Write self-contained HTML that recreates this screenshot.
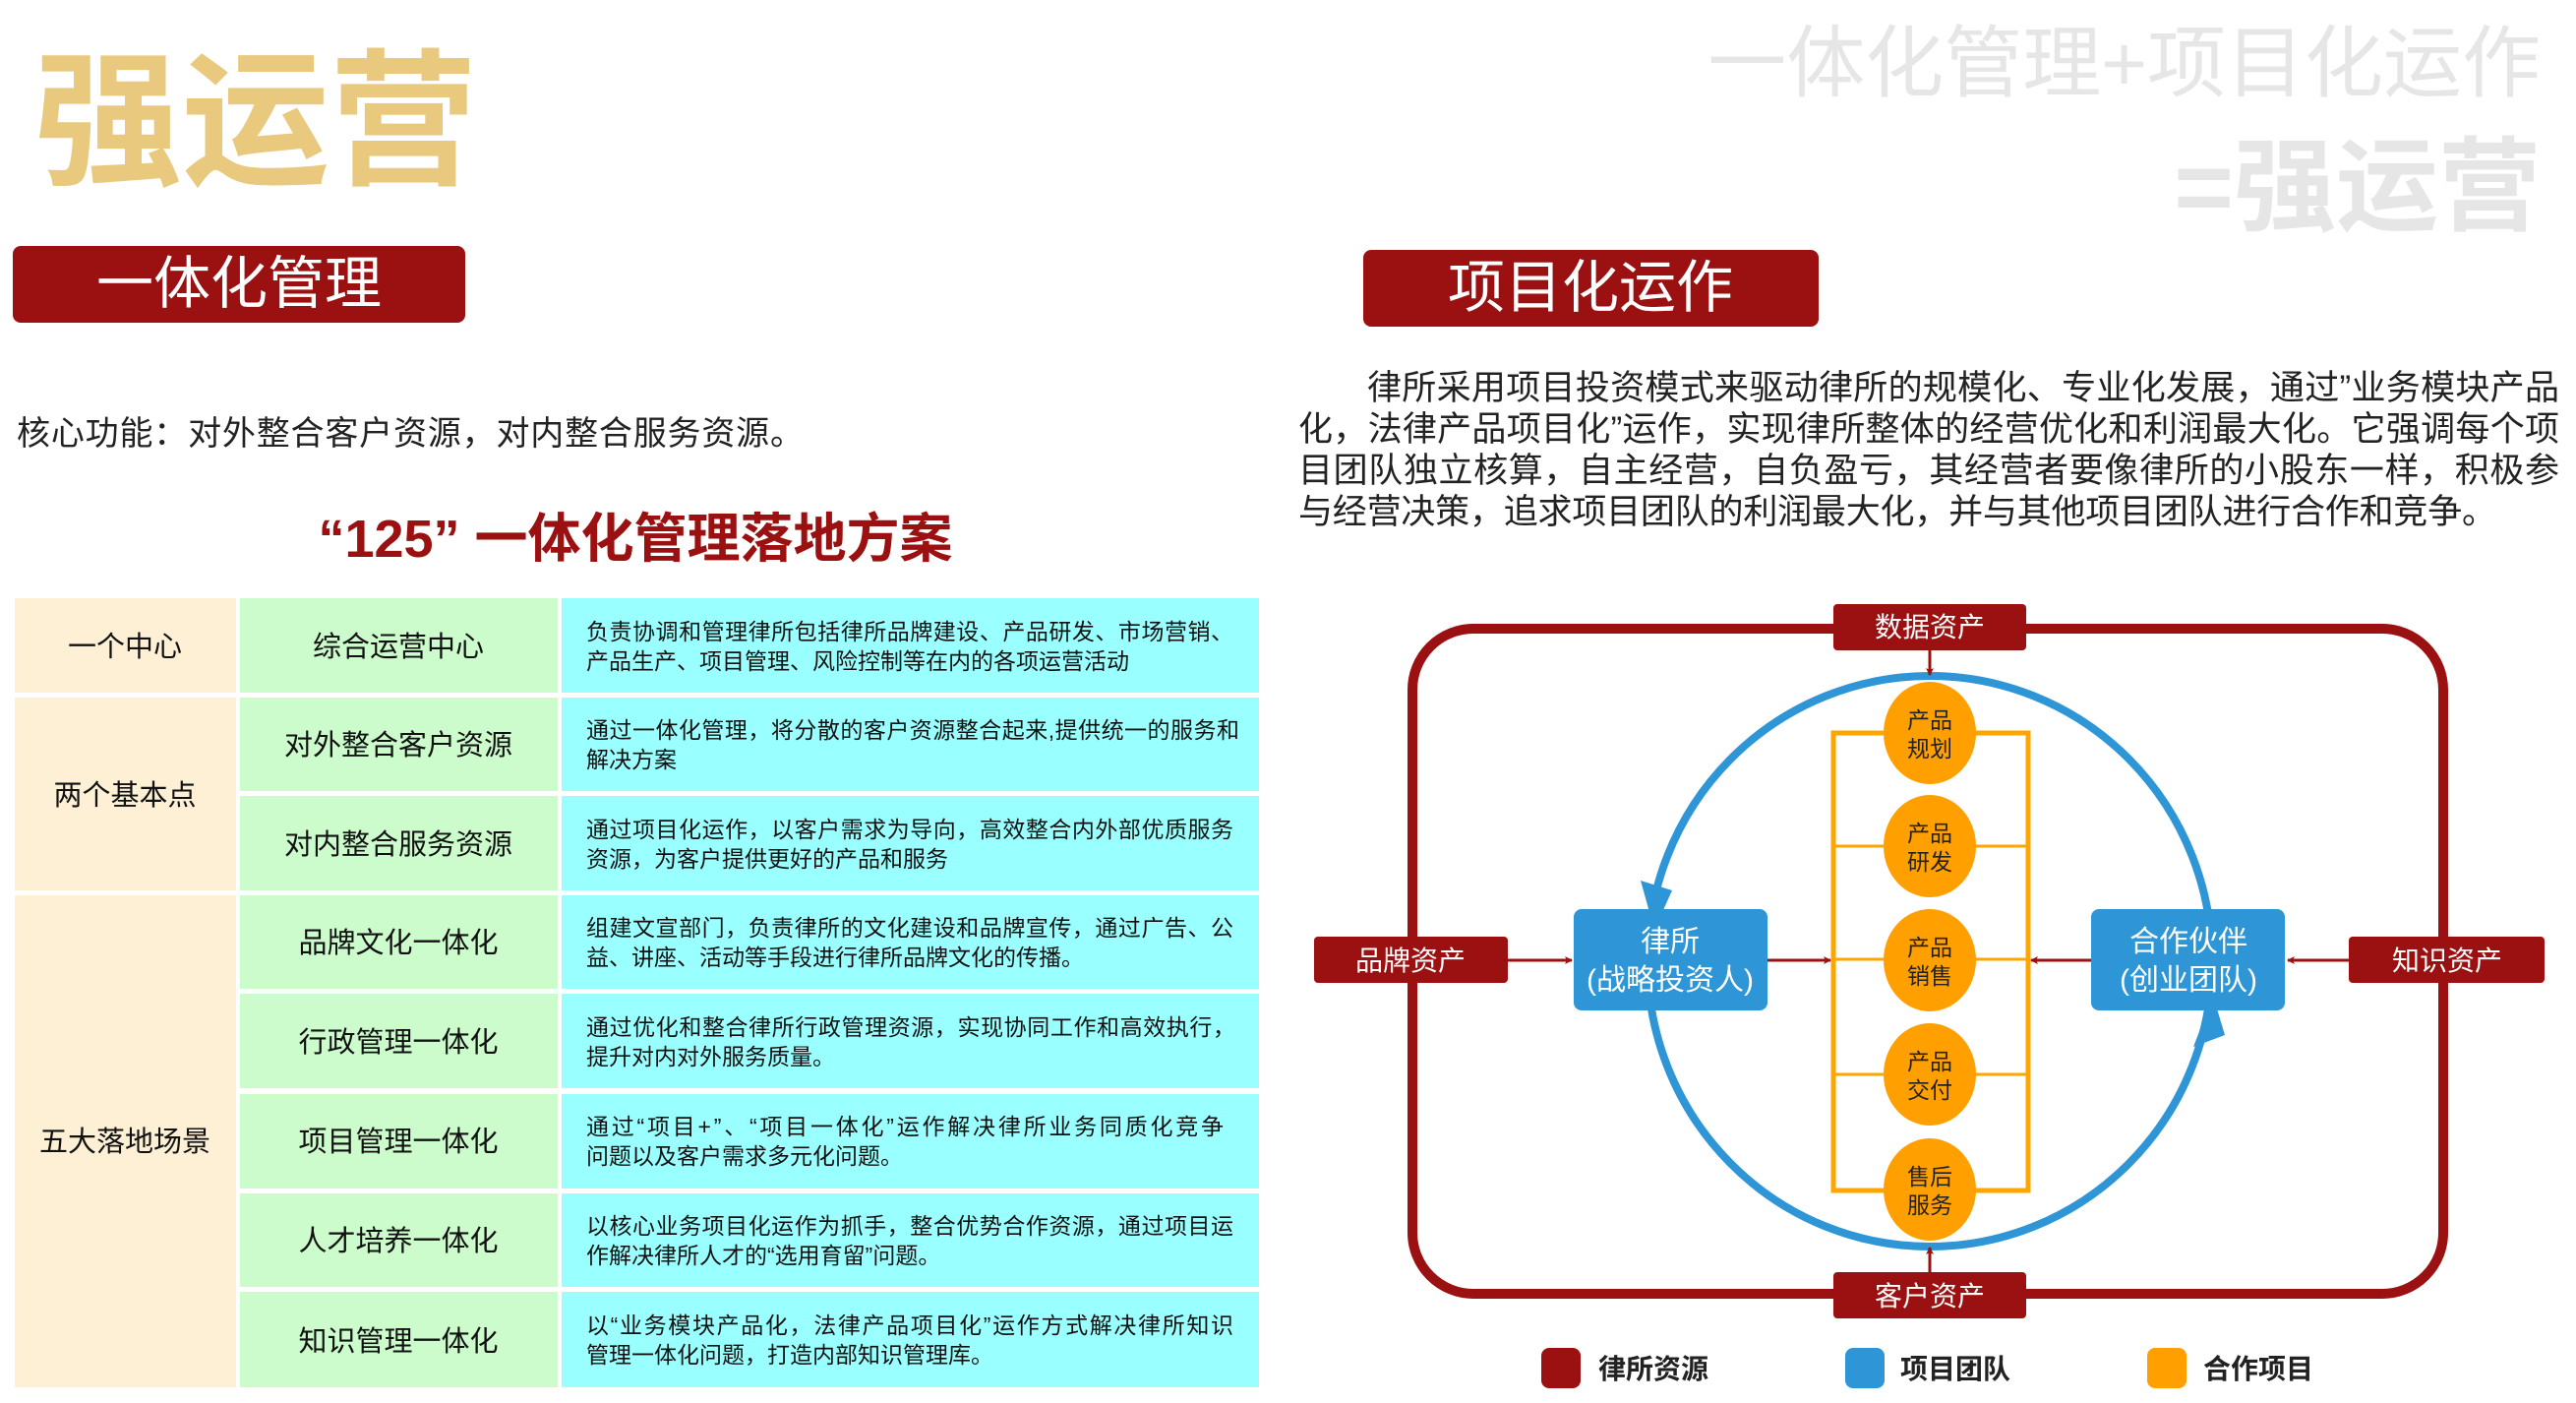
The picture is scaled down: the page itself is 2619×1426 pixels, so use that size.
<!DOCTYPE html>
<html><head><meta charset="utf-8"><style>
html,body{margin:0;padding:0;background:#fff;}
svg{display:block;}
text{font-family:"Liberation Sans","Noto Sans CJK SC",sans-serif;}
</style></head><body>
<svg width="2619" height="1426" viewBox="0 0 2619 1426" xmlns="http://www.w3.org/2000/svg">
<defs>
<marker id="ar" markerWidth="8" markerHeight="8" refX="7" refY="4" orient="auto" markerUnits="userSpaceOnUse" viewBox="0 0 8 8"><path d="M0,0 L8,4 L0,8 L2,4 Z" fill="#9b1010"/></marker>
</defs>
<text x="35" y="176" font-size="150" font-weight="bold" fill="#e8c97e" textLength="450">强运营</text>
<text x="2583" y="92" font-size="80" fill="#e6e6e6" text-anchor="end">一体化管理+项目化运作</text>
<text x="2583" y="226" font-size="104" font-weight="bold" fill="#e6e6e6" text-anchor="end">=强运营</text>

<rect x="13" y="250" width="460" height="78" rx="8" fill="#9b1010"/>
<text x="243" y="308" font-size="58" fill="#fff" text-anchor="middle">一体化管理</text>
<rect x="1386" y="254" width="463" height="78" rx="8" fill="#9b1010"/>
<text x="1617" y="312" font-size="58" fill="#fff" text-anchor="middle">项目化运作</text>

<text x="17" y="452" font-size="34" fill="#222" textLength="800">核心功能：对外整合客户资源，对内整合服务资源。</text>
<text x="646" y="566" font-size="54" font-weight="bold" fill="#9b1010" text-anchor="middle">“125” 一体化管理落地方案</text>

<g>
<rect x="15" y="608" width="225" height="96" fill="#fdf0d5"/>
<rect x="15" y="709" width="225" height="196" fill="#fdf0d5"/>
<rect x="15" y="910" width="225" height="500" fill="#fdf0d5"/>
<g fill="#ccfccc">
<rect x="244" y="608" width="323" height="96"/><rect x="244" y="709" width="323" height="95"/><rect x="244" y="809" width="323" height="96"/>
<rect x="244" y="910" width="323" height="95"/><rect x="244" y="1010" width="323" height="96"/><rect x="244" y="1112" width="323" height="96"/>
<rect x="244" y="1213" width="323" height="95"/><rect x="244" y="1313" width="323" height="97"/>
</g>
<g fill="#99ffff">
<rect x="571" y="608" width="709" height="96"/><rect x="571" y="709" width="709" height="95"/><rect x="571" y="809" width="709" height="96"/>
<rect x="571" y="910" width="709" height="95"/><rect x="571" y="1010" width="709" height="96"/><rect x="571" y="1112" width="709" height="96"/>
<rect x="571" y="1213" width="709" height="95"/><rect x="571" y="1313" width="709" height="97"/>
</g>
<g font-size="29" fill="#111" text-anchor="middle">
<text x="127" y="667">一个中心</text>
<text x="127" y="818">两个基本点</text>
<text x="127" y="1170">五大落地场景</text>
<text x="405" y="667">综合运营中心</text>
<text x="405" y="767">对外整合客户资源</text>
<text x="405" y="868">对内整合服务资源</text>
<text x="405" y="968">品牌文化一体化</text>
<text x="405" y="1069">行政管理一体化</text>
<text x="405" y="1170">项目管理一体化</text>
<text x="405" y="1271">人才培养一体化</text>
<text x="405" y="1373">知识管理一体化</text>
</g>
<g font-size="23" fill="#111">
<text x="596" y="650" textLength="658">负责协调和管理律所包括律所品牌建设、产品研发、市场营销、</text>
<text x="596" y="680">产品生产、项目管理、风险控制等在内的各项运营活动</text>
<text x="596" y="750" textLength="664">通过一体化管理，将分散的客户资源整合起来,提供统一的服务和</text>
<text x="596" y="780">解决方案</text>
<text x="596" y="851" textLength="658">通过项目化运作，以客户需求为导向，高效整合内外部优质服务</text>
<text x="596" y="881">资源，为客户提供更好的产品和服务</text>
<text x="596" y="951" textLength="658">组建文宣部门，负责律所的文化建设和品牌宣传，通过广告、公</text>
<text x="596" y="981">益、讲座、活动等手段进行律所品牌文化的传播。</text>
<text x="596" y="1052" textLength="660">通过优化和整合律所行政管理资源，实现协同工作和高效执行，</text>
<text x="596" y="1082">提升对内对外服务质量。</text>
<text x="596" y="1153" textLength="648">通过“项目+”、“项目一体化”运作解决律所业务同质化竞争</text>
<text x="596" y="1183">问题以及客户需求多元化问题。</text>
<text x="596" y="1254" textLength="658">以核心业务项目化运作为抓手，整合优势合作资源，通过项目运</text>
<text x="596" y="1284">作解决律所人才的“选用育留”问题。</text>
<text x="596" y="1355" textLength="658">以“业务模块产品化，法律产品项目化”运作方式解决律所知识</text>
<text x="596" y="1385">管理一体化问题，打造内部知识管理库。</text>
</g>
</g>

<g font-size="35" fill="#222">
<text x="1390" y="406" textLength="1212">律所采用项目投资模式来驱动律所的规模化、专业化发展，通过”业务模块产品</text>
<text x="1320" y="448" textLength="1282">化，法律产品项目化”运作，实现律所整体的经营优化和利润最大化。它强调每个项</text>
<text x="1320" y="490" textLength="1282">目团队独立核算，自主经营，自负盈亏，其经营者要像律所的小股东一样，积极参</text>
<text x="1320" y="532" textLength="1218">与经营决策，追求项目团队的利润最大化，并与其他项目团队进行合作和竞争。</text>
</g>

<rect x="1436" y="639" width="1048" height="676" rx="62" fill="none" stroke="#9b1010" stroke-width="10"/>
<ellipse cx="1962" cy="977" rx="287" ry="290" fill="none" stroke="#2e96d6" stroke-width="8"/>
<path d="M1668,895 L1700,905 L1682,945 Z" fill="#2e96d6"/>
<path d="M2230,1064 L2262,1052 L2250,1012 Z" fill="#2e96d6"/>

<rect x="1864" y="745" width="198" height="465" fill="none" stroke="#ffa500" stroke-width="5"/>
<g stroke="#ffa500" stroke-width="3">
<line x1="1864" y1="860" x2="2062" y2="860"/><line x1="1864" y1="975" x2="2062" y2="975"/>
<line x1="1864" y1="1092" x2="2062" y2="1092"/>
</g>
<g fill="#ffa000">
<ellipse cx="1962" cy="745" rx="47" ry="52"/><ellipse cx="1962" cy="860" rx="47" ry="52"/>
<ellipse cx="1962" cy="976" rx="47" ry="52"/><ellipse cx="1962" cy="1092" rx="47" ry="52"/>
<ellipse cx="1962" cy="1209" rx="47" ry="52"/>
</g>
<g font-size="23" fill="#222" text-anchor="middle">
<text x="1962" y="740">产品</text><text x="1962" y="769">规划</text>
<text x="1962" y="855">产品</text><text x="1962" y="884">研发</text>
<text x="1962" y="971">产品</text><text x="1962" y="1000">销售</text>
<text x="1962" y="1087">产品</text><text x="1962" y="1116">交付</text>
<text x="1962" y="1204">售后</text><text x="1962" y="1233">服务</text>
</g>

<rect x="1600" y="924" width="197" height="103" rx="8" fill="#2e96d6"/>
<text x="1698" y="967" font-size="30" fill="#fff" text-anchor="middle">律所</text>
<text x="1698" y="1006" font-size="30" fill="#fff" text-anchor="middle">(战略投资人)</text>
<rect x="2126" y="924" width="197" height="103" rx="8" fill="#2e96d6"/>
<text x="2225" y="967" font-size="30" fill="#fff" text-anchor="middle">合作伙伴</text>
<text x="2225" y="1006" font-size="30" fill="#fff" text-anchor="middle">(创业团队)</text>

<g fill="#9b1010">
<rect x="1864" y="614" width="196" height="47" rx="4"/>
<rect x="1864" y="1293" width="196" height="47" rx="4"/>
<rect x="1336" y="952" width="197" height="47" rx="4"/>
<rect x="2388" y="952" width="199" height="47" rx="4"/>
</g>
<g font-size="28" fill="#fff" text-anchor="middle">
<text x="1962" y="647">数据资产</text>
<text x="1962" y="1327">客户资产</text>
<text x="1434" y="986">品牌资产</text>
<text x="2488" y="986">知识资产</text>
</g>
<g stroke="#9b1010" stroke-width="3" marker-end="url(#ar)">
<line x1="1962" y1="661" x2="1962" y2="686"/>
<line x1="1962" y1="1293" x2="1962" y2="1268"/>
<line x1="1533" y1="976" x2="1598" y2="976"/>
<line x1="1797" y1="976" x2="1861" y2="976"/>
<line x1="2126" y1="976" x2="2065" y2="976"/>
<line x1="2388" y1="976" x2="2326" y2="976"/>
</g>

<rect x="1567" y="1370" width="40" height="41" rx="8" fill="#9b1010"/>
<text x="1625" y="1401" font-size="28" font-weight="bold" fill="#222">律所资源</text>
<rect x="1876" y="1370" width="40" height="41" rx="8" fill="#2e96d6"/>
<text x="1932" y="1401" font-size="28" font-weight="bold" fill="#222">项目团队</text>
<rect x="2183" y="1370" width="40" height="41" rx="8" fill="#ffa000"/>
<text x="2240" y="1401" font-size="28" font-weight="bold" fill="#222">合作项目</text>
</svg>
</body></html>
